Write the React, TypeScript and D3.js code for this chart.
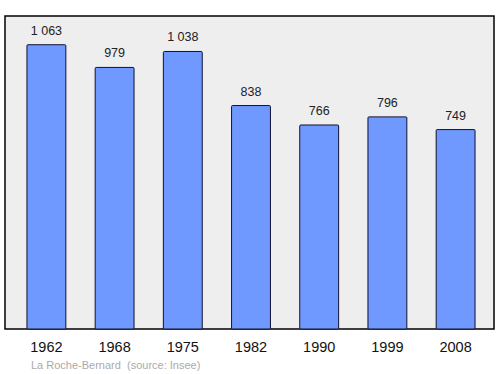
import React from "react";
import * as d3 from "d3";

const years = ["1962", "1968", "1975", "1982", "1990", "1999", "2008"];
const population = [1063, 979, 1038, 838, 766, 796, 749];
const title = "La Roche-Bernard";
const source = "(source: Insee)";

export default function App() {
  const W = 500, H = 374;
  const left = 5, right = 494, top = 16, bottom = 329;
  const x = d3.scaleBand().domain(years).range([left + 1.5, right + 1.5]).paddingInner(0.43).paddingOuter(0.3);
  const y = d3.scaleLinear().domain([0, d3.max(population)! * 1.1]).range([bottom + 3, top]);
  const fmt = (v: number) => d3.format(",")(v).replace(/,/g, " ");
  return (
    <svg width={W} height={H} style={{ position: "absolute", left: 0, top: 0, fontFamily: "'Liberation Sans', Arial, sans-serif" }}>
      <rect x={left} y={top} width={right - left} height={bottom - top} fill="#eeeeee" stroke="#000" strokeWidth={1.5} />
      {years.map((yr, i) => (
        <g key={yr}>
          <rect x={x(yr)} y={y(population[i])} width={x.bandwidth()} height={bottom - y(population[i])}
            fill="#7099ff" stroke="#101030" strokeWidth={1} rx={1} />
          <text x={x(yr)! + x.bandwidth() / 2} y={y(population[i]) - 10} textAnchor="middle" fontSize={12.5} fill="#222">{fmt(population[i])}</text>
          <text x={x(yr)! + x.bandwidth() / 2} y={352} textAnchor="middle" fontSize={14.5} fill="#111">{yr}</text>
        </g>
      ))}
      <text x={31} y={369} fontSize={11} fill="#aaaaaa">{title}</text>
      <text x={127} y={369} fontSize={11} fill="#aaaaaa">{source}</text>
    </svg>
  );
}
